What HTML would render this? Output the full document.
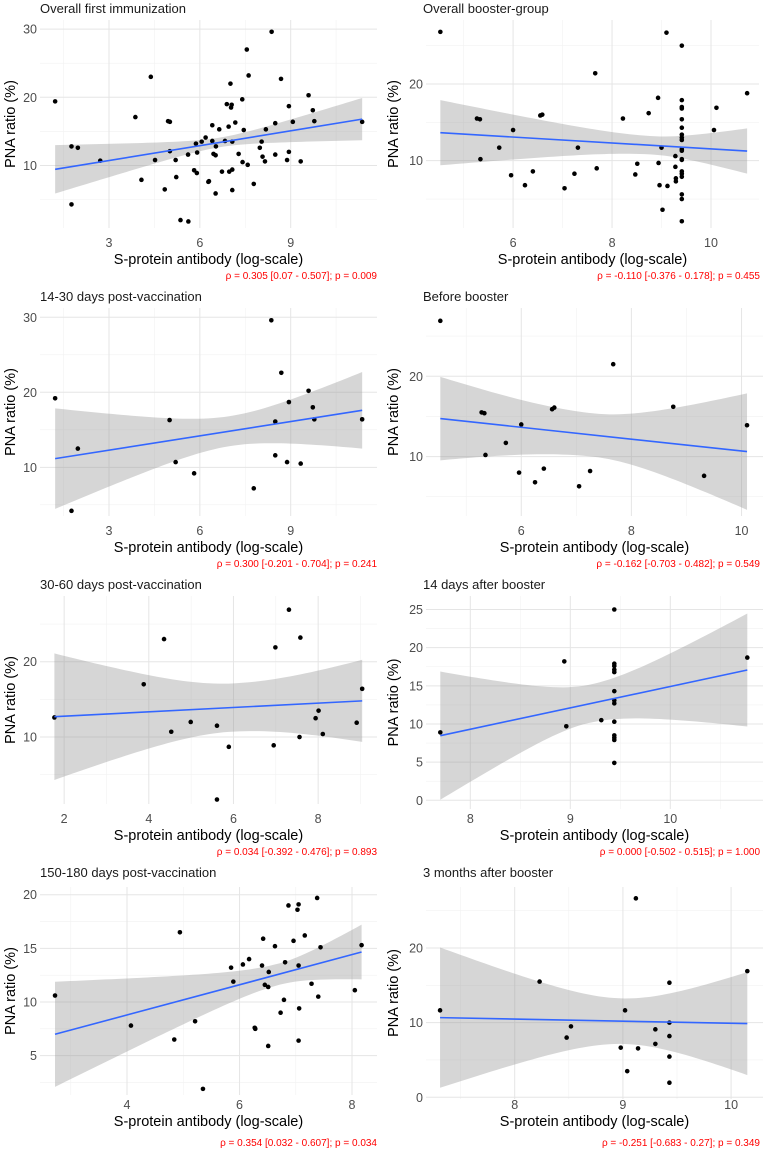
<!DOCTYPE html>
<html><head><meta charset="utf-8"><style>
html,body{margin:0;padding:0;background:#fff;}
svg{display:block;font-family:"Liberation Sans",Arial,sans-serif;}
</style></head><body>
<svg id="chart" width="766" height="1151" viewBox="0 0 766 1151"></svg>
<script>
const titles = ["Overall first immunization","Overall booster-group","14-30 days post-vaccination","Before booster","30-60 days post-vaccination","14 days after booster","150-180 days post-vaccination","3 months after booster"];
const annotations = ["ρ = 0.305 [0.07 - 0.507]; p = 0.009","ρ = -0.110 [-0.376 - 0.178]; p = 0.455","ρ = 0.300 [-0.201 - 0.704]; p = 0.241","ρ = -0.162 [-0.703 - 0.482]; p = 0.549","ρ = 0.034 [-0.392 - 0.476]; p = 0.893","ρ = 0.000 [-0.502 - 0.515]; p = 1.000","ρ = 0.354 [0.032 - 0.607]; p = 0.034","ρ = -0.251 [-0.683 - 0.27]; p = 0.349"];

const p1x = [1.22,1.76,1.97,1.76,2.71,3.87,4.07,4.38,4.52,4.84,4.95,5.01,5.01,5.20,5.22,5.36,5.61,5.62,5.81,5.87,5.90,5.91,6.06,6.19,6.28,6.30,6.41,6.41,6.45,6.52,6.52,6.53,6.64,6.73,6.83,6.89,6.95,6.97,7.01,7.03,7.05,7.07,7.07,7.07,7.17,7.28,7.40,7.41,7.45,7.55,7.58,7.61,7.78,7.98,8.04,8.07,8.15,8.18,8.37,8.49,8.49,8.68,8.88,8.94,8.94,9.07,9.33,9.59,9.73,9.78,11.36];
const p1y = [19.4,12.8,12.6,4.3,10.7,17.1,7.9,23.0,10.8,6.5,16.5,16.4,12.1,10.8,8.3,2.0,11.6,1.8,9.3,13.2,8.9,11.9,13.5,14.1,7.6,7.7,15.9,13.6,11.7,11.5,5.9,12.8,15.3,9.1,13.6,19.0,15.7,9.1,22.0,18.5,18.9,13.5,9.4,6.4,16.3,11.7,19.7,10.5,15.2,27.0,10.1,23.2,7.3,12.6,13.5,11.3,10.6,15.3,29.6,11.6,16.2,22.7,10.8,18.7,12.0,16.4,10.6,20.3,18.1,16.5,16.4];
const p2x = [4.53,5.27,5.33,5.34,5.72,5.96,6.00,6.24,6.40,6.55,6.59,7.04,7.24,7.31,7.66,7.69,8.22,8.47,8.51,8.74,8.93,8.94,8.96,9.00,9.02,9.10,9.12,9.28,9.28,9.29,9.29,9.41,9.41,9.41,9.41,9.41,9.41,9.41,9.41,9.41,9.41,9.41,9.41,9.41,9.41,9.41,9.41,9.41,9.41,9.41,10.06,10.11,10.73];
const p2y = [26.8,15.5,15.4,10.2,11.7,8.1,14.0,6.8,8.6,15.9,16.0,6.4,8.3,11.7,21.4,9.0,15.5,8.2,9.6,16.2,18.2,9.7,6.8,11.7,3.6,26.7,6.7,10.6,9.2,7.7,7.3,25.0,17.9,17.0,16.8,15.4,14.3,13.4,13.0,12.7,11.5,11.3,10.2,10.1,8.6,8.3,7.9,5.6,5.0,2.1,14.0,16.9,18.8];
const p3x = [1.22,1.76,1.97,5.00,5.20,5.81,7.78,8.36,8.49,8.49,8.69,8.88,8.94,9.33,9.59,9.73,9.78,11.36];
const p3y = [19.2,4.2,12.5,16.3,10.7,9.2,7.2,29.6,16.1,11.6,22.6,10.7,18.7,10.5,20.2,18.0,16.4,16.4];
const p4x = [4.53,5.28,5.33,5.35,5.72,5.96,6.00,6.25,6.41,6.56,6.60,7.05,7.25,7.67,8.76,9.32,10.10];
const p4y = [26.9,15.5,15.4,10.2,11.7,8.0,14.0,6.8,8.5,15.9,16.1,6.3,8.2,21.5,16.2,7.6,13.9];
const p5x = [1.77,3.88,4.36,4.53,4.99,5.61,5.61,5.89,6.95,6.99,7.31,7.56,7.58,7.94,8.01,8.11,8.91,9.04];
const p5y = [12.6,17.0,23.0,10.7,12.0,11.5,1.7,8.7,8.9,21.9,26.9,10.0,23.2,12.5,13.5,10.4,11.9,16.4];
const p6x = [7.70,8.94,8.96,9.31,9.44,9.44,9.44,9.44,9.44,9.44,9.44,9.44,9.44,9.44,9.44,9.44,9.44,10.77];
const p6y = [8.9,18.2,9.7,10.5,25.0,17.9,17.6,17.1,16.8,14.3,13.1,12.7,10.3,8.5,8.2,7.9,4.9,18.7];
const p7x = [2.72,4.07,4.84,4.94,5.21,5.35,5.85,5.89,6.06,6.17,6.27,6.28,6.40,6.42,6.45,6.51,6.51,6.52,6.63,6.73,6.79,6.81,6.87,6.96,7.03,7.05,7.05,7.06,7.05,7.16,7.28,7.38,7.40,7.44,8.05,8.17];
const p7y = [10.6,7.8,6.5,16.5,8.2,1.9,13.2,11.9,13.5,14.0,7.6,7.5,13.4,15.9,11.6,11.4,5.9,12.8,15.2,9.0,10.2,13.7,19.0,15.7,18.6,13.4,19.1,9.4,6.4,16.2,11.7,19.7,10.5,15.1,11.1,15.3];
const p8x = [7.31,8.23,8.48,8.52,8.98,9.02,9.04,9.12,9.14,9.30,9.30,9.43,9.43,9.43,9.43,9.43,10.15];
const p8y = [11.65,15.5,8.0,9.5,6.65,11.65,3.5,26.65,6.55,9.1,7.15,15.35,10.0,8.2,5.45,1.95,16.9];

const fitEnds = [[9.44,16.8],[13.65,11.26],[11.16,17.6],[14.73,10.62],[12.7,14.8],[8.47,17.07],[6.99,14.66],[10.67,9.87]];
const ribbonCenters = [6.65,8.8,7.0,7.3,6.0,9.2,6.7,9.0];
const ribbonHalves = [[3.55,0.7,3.1],[4.25,1.2,2.95],[6.7,2.0,5.1],[5.2,2.7,7.25],[8.4,3.2,5.45],[8.4,2.5,7.4],[4.9,1.0,2.55],[9.4,3.05,6.9]];

const xTicks = [[3,6,9],[6,8,10],[3,6,9],[6,8,10],[2,4,6,8],[8,9,10],[4,6,8],[8,9,10]];
const xMinor = [[1.5,4.5,7.5,10.5],[5,7,9,11],[1.5,4.5,7.5,10.5],[5,7,9],[3,5,7,9],[7.5,8.5,9.5,10.5],[3,5,7],[7.5,8.5,9.5]];
const yTicks = [[10,20,30],[10,20],[10,20,30],[10,20],[10,20],[0,5,10,15,20,25],[5,10,15,20],[0,10,20]];
const yMinor = [[5,15,25],[5,15,25],[5,15,25],[5,15,25],[5,15,25],[2.5,7.5,12.5,17.5,22.5],[2.5,7.5,12.5,17.5],[5,15,25]];

const xsAll = [p1x,p2x,p3x,p4x,p5x,p6x,p7x,p8x];
const ysAll = [p1y,p2y,p3y,p4y,p5y,p6y,p7y,p8y];

const layout = [
 {ox:0,oy:0,l:40,t:20,r:377,b:228,xd:[0.72,11.85],yd:[0.84,31.33]},
 {ox:383,oy:0,l:43,t:20,r:376,b:228,xd:[4.24,10.97],yd:[1.22,28.35]},
 {ox:0,oy:288,l:40,t:20,r:377,b:228,xd:[0.72,11.85],yd:[3.51,31.24]},
 {ox:383,oy:288,l:43,t:20,r:380,b:228,xd:[4.27,10.39],yd:[2.6,28.5]},
 {ox:0,oy:576,l:40,t:20,r:377,b:228,xd:[1.43,9.39],yd:[1.11,28.72]},
 {ox:383,oy:576,l:43,t:20,r:380,b:233,xd:[7.557,10.927],yd:[-1.14,26.77]},
 {ox:0,oy:862,l:40,t:25,r:377,b:233,xd:[2.453,8.444],yd:[1.33,20.72]},
 {ox:383,oy:862,l:43,t:25,r:380,b:237,xd:[7.18,10.295],yd:[-0.23,28.17]}
];
const NS = "http://www.w3.org/2000/svg";
const svg = document.getElementById('chart');
function mk(tag, attrs, parent){const e=document.createElementNS(NS,tag);for(const k in attrs)e.setAttribute(k,attrs[k]);parent.appendChild(e);return e;}

layout.forEach((L,i)=>{
  const g = mk('g',{transform:`translate(${L.ox},${L.oy})`},svg);
  
  
  const sx = v => L.l + (v-L.xd[0])/(L.xd[1]-L.xd[0])*(L.r-L.l);
  const sy = v => L.b - (v-L.yd[0])/(L.yd[1]-L.yd[0])*(L.b-L.t);
  xMinor[i].forEach(v=>{ if(v>L.xd[0]&&v<L.xd[1]){const e=mk('line',{x1:sx(v),x2:sx(v),y1:L.t,y2:L.b,stroke:'#f2f2f2','stroke-width':0.6},g);
    
    }});
  yMinor[i].forEach(v=>{ if(v>L.yd[0]&&v<L.yd[1]){const e=mk('line',{x1:L.l,x2:L.r,y1:sy(v),y2:sy(v),stroke:'#f2f2f2','stroke-width':0.6},g);
    
    }});
  xTicks[i].forEach(v=>{const e=mk('line',{x1:sx(v),x2:sx(v),y1:L.t,y2:L.b,stroke:'#e5e5e5','stroke-width':1},g);
    
    
    const t=mk('text',{x:sx(v),y:247,'text-anchor':'middle','font-size':12.5,fill:'#4d4d4d'},g);t.textContent=v;
    
    });
  yTicks[i].forEach(v=>{const e=mk('line',{x1:L.l,x2:L.r,y1:sy(v),y2:sy(v),stroke:'#e5e5e5','stroke-width':1},g);
    
    
    const t=mk('text',{x:L.l-3,y:sy(v)+4.5,'text-anchor':'end','font-size':12.5,fill:'#4d4d4d'},g);t.textContent=v;
    
    });
  const xs = xsAll[i], ys = ysAll[i];
  const x0 = Math.min(...xs), x1 = Math.max(...xs);
  const c = ribbonCenters[i], hw = ribbonHalves[i], fe = fitEnds[i];
  const fit = x => fe[0] + (x-x0)/(x1-x0)*(fe[1]-fe[0]);
  const kL = (hw[0]*hw[0]-hw[1]*hw[1])/Math.pow(c-x0,2), kR = (hw[2]*hw[2]-hw[1]*hw[1])/Math.pow(x1-c,2);
  const half = x => Math.sqrt(hw[1]*hw[1] + (x<c?kL:kR)*(x-c)*(x-c));
  const N=60, up=[], lo=[];
  for(let k=0;k<=N;k++){const x=x0+(x1-x0)*k/N;up.push(sx(x).toFixed(2)+','+sy(fit(x)+half(x)).toFixed(2));lo.push(sx(x).toFixed(2)+','+sy(fit(x)-half(x)).toFixed(2));}
  const rib = mk('polygon',{points:up.concat(lo.reverse()).join(' '),fill:'#999999','fill-opacity':0.4},g);
  
  
  xs.forEach((x,j)=>{const d=mk('circle',{cx:sx(x),cy:sy(ys[j]),r:2.3,fill:'#000'},g);
    
    });
  const ln = mk('line',{x1:sx(x0),y1:sy(fe[0]),x2:sx(x1),y2:sy(fe[1]),stroke:'#3366FF','stroke-width':1.6},g);
  
  
  const tt = mk('text',{x:40,y:i>=6?15:13,'font-size':13,fill:'#1a1a1a'},g); tt.textContent = titles[i];
  
  
  const xt = mk('text',{x:(L.l+L.r)/2,y:264,'text-anchor':'middle','font-size':14.5,fill:'#000'},g); xt.textContent='S-protein antibody (log-scale)';
  
  
  const cy=(L.t+L.b)/2;
  const yt = mk('text',{x:15,y:cy,'text-anchor':'middle','font-size':14.5,fill:'#000',transform:`rotate(-90 15 ${cy})`},g); yt.textContent='PNA ratio (%)';
  
  
  const an = mk('text',{x:377,y:i>=6?284:279,'text-anchor':'end','font-size':10,fill:'#ff0000'},g); an.textContent=annotations[i];
  
  
});
</script>
</body></html>
